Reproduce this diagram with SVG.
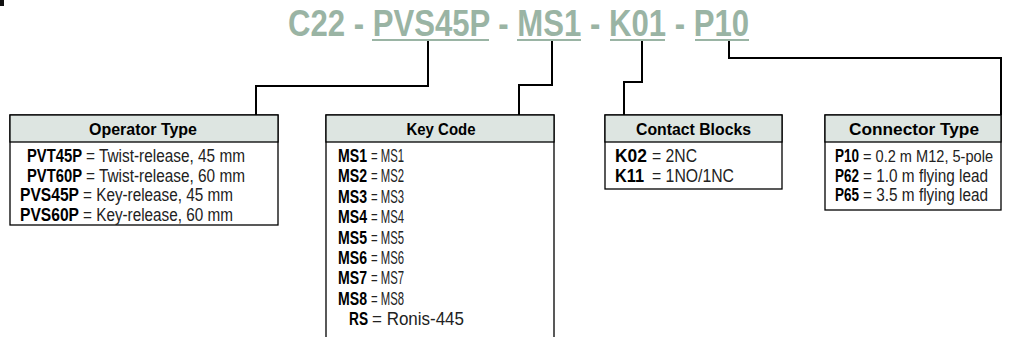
<svg xmlns="http://www.w3.org/2000/svg" width="1010" height="337" viewBox="0 0 1010 337">
<style>
.title{font-family:"Liberation Sans",Arial,sans-serif;font-weight:bold;font-size:36px;fill:#9ab4a4}
.ul{stroke:#9ab4a4;stroke-width:2}
.box{fill:#fff;stroke:#000;stroke-width:1.3}
.hdr{fill:#dde5e1;stroke:#000;stroke-width:1.3}
.ht{font-family:"Liberation Sans",Arial,sans-serif;font-weight:bold;font-size:17px;fill:#000;text-anchor:middle}
.row{font-family:"Liberation Sans",Arial,sans-serif;font-size:17.5px;fill:#222}
.b{font-weight:bold;fill:#000}
.con{fill:none;stroke:#000;stroke-width:2}
</style>
<rect x="0" y="0" width="4" height="6" fill="#111"/>
<g id="title">
<text class="title" x="288" y="36" textLength="461" lengthAdjust="spacingAndGlyphs">C22 - PVS45P - MS1 - K01 - P10</text>
<line class="ul" x1="372" y1="40" x2="489" y2="40"/>
<line class="ul" x1="517" y1="40" x2="581" y2="40"/>
<line class="ul" x1="610" y1="40" x2="665" y2="40"/>
<line class="ul" x1="695" y1="40" x2="749" y2="40"/>
</g>
<g id="connectors">
<path class="con" d="M428 41V86H256V115"/>
<path class="con" d="M552 41V85H519V115"/>
<path class="con" d="M642 41V82H624V115"/>
<path class="con" d="M729 41V58H1001V115"/>
</g>
<g id="operator-type">
<rect class="box" x="10" y="115" width="268" height="110"/>
<rect class="hdr" x="10" y="115" width="268" height="27"/>
<text class="ht" x="143" y="134.5" textLength="108" lengthAdjust="spacingAndGlyphs">Operator Type</text>
<text class="row" y="162"><tspan class="b" x="27" textLength="55" lengthAdjust="spacingAndGlyphs">PVT45P</tspan><tspan x="86" textLength="159" lengthAdjust="spacingAndGlyphs">= Twist-release, 45 mm</tspan></text>
<text class="row" y="181.7"><tspan class="b" x="27" textLength="55" lengthAdjust="spacingAndGlyphs">PVT60P</tspan><tspan x="86" textLength="159" lengthAdjust="spacingAndGlyphs">= Twist-release, 60 mm</tspan></text>
<text class="row" y="201.4"><tspan class="b" x="20" textLength="59" lengthAdjust="spacingAndGlyphs">PVS45P</tspan><tspan x="83" textLength="150" lengthAdjust="spacingAndGlyphs">= Key-release, 45 mm</tspan></text>
<text class="row" y="221.1"><tspan class="b" x="20" textLength="59" lengthAdjust="spacingAndGlyphs">PVS60P</tspan><tspan x="83" textLength="150" lengthAdjust="spacingAndGlyphs">= Key-release, 60 mm</tspan></text>
</g>
<g id="key-code">
<rect class="box" x="326" y="115" width="228" height="240"/>
<rect class="hdr" x="326" y="115" width="228" height="27"/>
<text class="ht" x="441" y="134.5" textLength="69" lengthAdjust="spacingAndGlyphs">Key Code</text>
<text class="row" y="162"><tspan class="b" x="338" textLength="29" lengthAdjust="spacingAndGlyphs">MS1</tspan><tspan x="371" textLength="33" lengthAdjust="spacingAndGlyphs">= MS1</tspan></text>
<text class="row" y="182.4"><tspan class="b" x="338" textLength="29" lengthAdjust="spacingAndGlyphs">MS2</tspan><tspan x="371" textLength="33" lengthAdjust="spacingAndGlyphs">= MS2</tspan></text>
<text class="row" y="202.8"><tspan class="b" x="338" textLength="29" lengthAdjust="spacingAndGlyphs">MS3</tspan><tspan x="371" textLength="33" lengthAdjust="spacingAndGlyphs">= MS3</tspan></text>
<text class="row" y="223.2"><tspan class="b" x="338" textLength="29" lengthAdjust="spacingAndGlyphs">MS4</tspan><tspan x="371" textLength="33" lengthAdjust="spacingAndGlyphs">= MS4</tspan></text>
<text class="row" y="243.6"><tspan class="b" x="338" textLength="29" lengthAdjust="spacingAndGlyphs">MS5</tspan><tspan x="371" textLength="33" lengthAdjust="spacingAndGlyphs">= MS5</tspan></text>
<text class="row" y="264"><tspan class="b" x="338" textLength="29" lengthAdjust="spacingAndGlyphs">MS6</tspan><tspan x="371" textLength="33" lengthAdjust="spacingAndGlyphs">= MS6</tspan></text>
<text class="row" y="284.4"><tspan class="b" x="338" textLength="29" lengthAdjust="spacingAndGlyphs">MS7</tspan><tspan x="371" textLength="33" lengthAdjust="spacingAndGlyphs">= MS7</tspan></text>
<text class="row" y="304.8"><tspan class="b" x="338" textLength="29" lengthAdjust="spacingAndGlyphs">MS8</tspan><tspan x="371" textLength="33" lengthAdjust="spacingAndGlyphs">= MS8</tspan></text>
<text class="row" y="325.2"><tspan class="b" x="349" textLength="19" lengthAdjust="spacingAndGlyphs">RS</tspan><tspan x="372" textLength="92" lengthAdjust="spacingAndGlyphs">= Ronis-445</tspan></text>
</g>
<g id="contact-blocks">
<rect class="box" x="605" y="115" width="177" height="74"/>
<rect class="hdr" x="605" y="115" width="177" height="27"/>
<text class="ht" x="693.5" y="134.5" textLength="115" lengthAdjust="spacingAndGlyphs">Contact Blocks</text>
<text class="row" y="162"><tspan class="b" x="615" textLength="32" lengthAdjust="spacingAndGlyphs">K02</tspan><tspan x="652" textLength="45" lengthAdjust="spacingAndGlyphs">= 2NC</tspan></text>
<text class="row" y="181.7"><tspan class="b" x="615" textLength="29" lengthAdjust="spacingAndGlyphs">K11</tspan><tspan x="652" textLength="82" lengthAdjust="spacingAndGlyphs">= 1NO/1NC</tspan></text>
</g>
<g id="connector-type">
<rect class="box" x="825" y="115" width="176" height="95"/>
<rect class="hdr" x="825" y="115" width="176" height="27"/>
<text class="ht" x="914" y="134.5" textLength="130" lengthAdjust="spacingAndGlyphs">Connector Type</text>
<text class="row" y="162"><tspan class="b" x="835" textLength="24" lengthAdjust="spacingAndGlyphs">P10</tspan><tspan x="863" font-size="16.3" textLength="130" lengthAdjust="spacingAndGlyphs">= 0.2 m M12, 5-pole</tspan></text>
<text class="row" y="181.7"><tspan class="b" x="835" textLength="24" lengthAdjust="spacingAndGlyphs">P62</tspan><tspan x="863" textLength="125" lengthAdjust="spacingAndGlyphs">= 1.0 m flying lead</tspan></text>
<text class="row" y="201.4"><tspan class="b" x="835" textLength="24" lengthAdjust="spacingAndGlyphs">P65</tspan><tspan x="863" textLength="125" lengthAdjust="spacingAndGlyphs">= 3.5 m flying lead</tspan></text>
</g>
</svg>
